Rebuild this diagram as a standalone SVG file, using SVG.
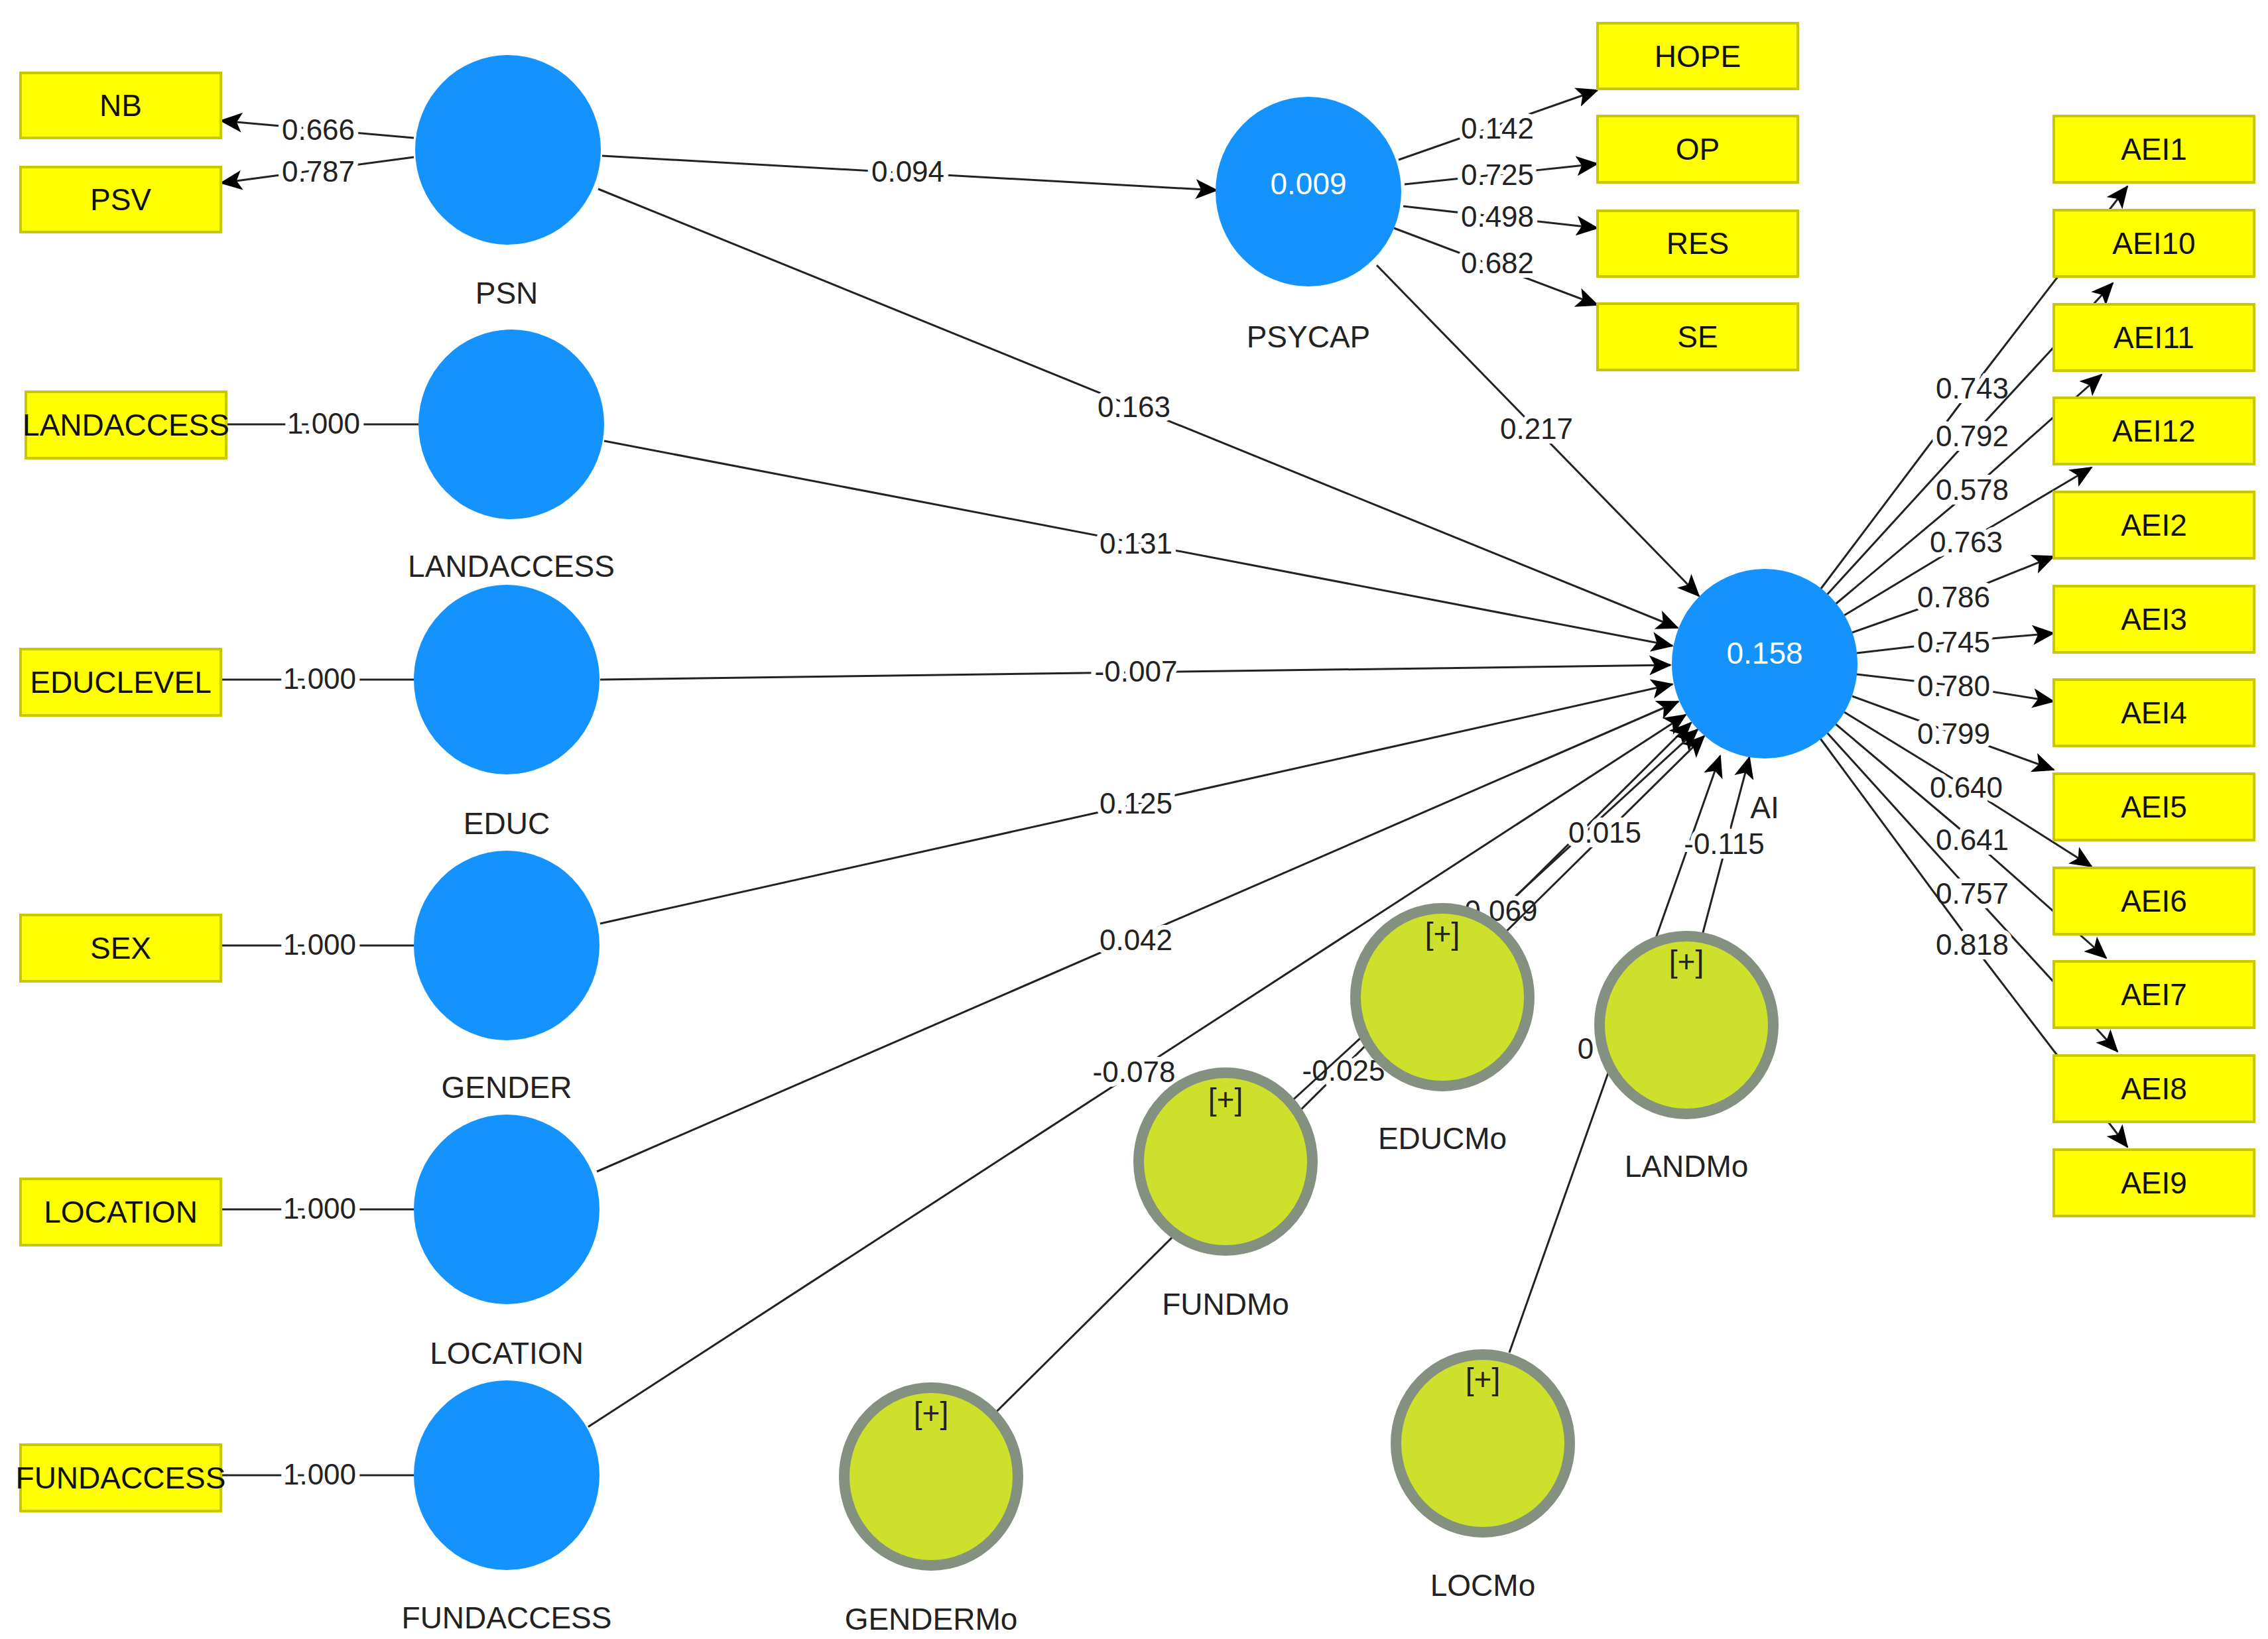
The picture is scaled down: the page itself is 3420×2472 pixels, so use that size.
<svg xmlns="http://www.w3.org/2000/svg" width="3420" height="2472" viewBox="0 0 3420 2472">
<defs>
<marker id="ar" markerUnits="userSpaceOnUse" markerWidth="34" markerHeight="30" refX="32" refY="15" orient="auto"><path d="M0,0 L34,15 L0,30 L8,15 Z" fill="#000"/></marker>
<style>
.ln{stroke:#222;stroke-width:3;fill:none}
.a{marker-end:url(#ar)}
.lbl{font-family:"Liberation Sans",Arial,sans-serif;font-size:44px;fill:#222;text-anchor:middle;dominant-baseline:central;paint-order:stroke;stroke:#fff;stroke-width:14px}
.box{fill:#FFFF00;stroke:#C8C800;stroke-width:4}
.bt{font-family:"Liberation Sans",Arial,sans-serif;font-size:46px;fill:#111;text-anchor:middle;dominant-baseline:central}
.lv{fill:#1493FF}
.mo{fill:#CCE02C;stroke:#849080;stroke-width:16}
.nt{font-family:"Liberation Sans",Arial,sans-serif;font-size:46px;fill:#222;text-anchor:middle;dominant-baseline:central}
.wt{font-family:"Liberation Sans",Arial,sans-serif;font-size:46px;fill:#fff;text-anchor:middle;dominant-baseline:central}
</style>
</defs>
<rect width="3420" height="2472" fill="#fff"/>
<g id="connectors">
<line class="ln a" x1="624" y1="208" x2="333" y2="182"/><text class="lbl" x="480" y="195">0.666</text>
<line class="ln a" x1="624" y1="237" x2="333" y2="276"/><text class="lbl" x="480" y="258">0.787</text>
<line class="ln" x1="342" y1="640" x2="631" y2="640"/><text class="lbl" x="488" y="638">1.000</text>
<line class="ln" x1="333" y1="1025" x2="624" y2="1025"/><text class="lbl" x="482" y="1023">1.000</text>
<line class="ln" x1="333" y1="1426" x2="624" y2="1426"/><text class="lbl" x="482" y="1424">1.000</text>
<line class="ln" x1="333" y1="1824" x2="624" y2="1824"/><text class="lbl" x="482" y="1822">1.000</text>
<line class="ln" x1="333" y1="2225" x2="624" y2="2225"/><text class="lbl" x="482" y="2223">1.000</text>
<line class="ln a" x1="908" y1="235" x2="1835" y2="287"/><text class="lbl" x="1369" y="258">0.094</text>
<line class="ln a" x1="2109" y1="241" x2="2409" y2="136"/><text class="lbl" x="2258" y="193">0.142</text>
<line class="ln a" x1="2118" y1="278" x2="2409" y2="247"/><text class="lbl" x="2258" y="263">0.725</text>
<line class="ln a" x1="2116" y1="311" x2="2409" y2="344"/><text class="lbl" x="2258" y="326">0.498</text>
<line class="ln a" x1="2102" y1="344" x2="2409" y2="460"/><text class="lbl" x="2258" y="396">0.682</text>
<line class="ln a" x1="2076" y1="400" x2="2562" y2="899"/><text class="lbl" x="2317" y="646">0.217</text>
<line class="ln a" x1="902" y1="285" x2="2530" y2="947"/><text class="lbl" x="1710" y="613">0.163</text>
<line class="ln a" x1="911" y1="665" x2="2522" y2="974"/><text class="lbl" x="1713" y="819">0.131</text>
<line class="ln a" x1="905" y1="1025" x2="2519" y2="1003"/><text class="lbl" x="1713" y="1012">-0.007</text>
<line class="ln a" x1="905" y1="1393" x2="2522" y2="1032"/><text class="lbl" x="1713" y="1211">0.125</text>
<line class="ln a" x1="900" y1="1767" x2="2531" y2="1058"/><text class="lbl" x="1713" y="1417">0.042</text>
<line class="ln a" x1="887" y1="2152" x2="2542" y2="1078"/><text class="lbl" x="1710" y="1616">-0.078</text>
<line class="ln a" x1="1404" y1="2227" x2="2550" y2="1090"/><text class="lbl" x="2026" y="1614">-0.025</text>
<line class="ln a" x1="1848" y1="1752" x2="2560" y2="1100"/><text class="lbl" x="2256" y="1373">-0.069</text>
<line class="ln a" x1="2266" y1="1410" x2="2570" y2="1110"/><text class="lbl" x="2420" y="1255">0.015</text>
<line class="ln a" x1="2276" y1="2040" x2="2594" y2="1140"/><text class="lbl" x="2391" y="1581">0</text>
<line class="ln a" x1="2567" y1="1410" x2="2638" y2="1142"/><text class="lbl" x="2600" y="1272">-0.115</text>
<polyline class="ln a" points="2745,889 2974,585 3208,281"/><text class="lbl" x="2974" y="585">0.743</text>
<polyline class="ln a" points="2755,897 2974,657 3186,427"/><text class="lbl" x="2974" y="657">0.792</text>
<polyline class="ln a" points="2768,911 2974,738 3169,565"/><text class="lbl" x="2974" y="738">0.578</text>
<polyline class="ln a" points="2781,928 2965,817 3154,705"/><text class="lbl" x="2965" y="817">0.763</text>
<polyline class="ln a" points="2793,954 2946,900 3097,839"/><text class="lbl" x="2946" y="900">0.786</text>
<polyline class="ln a" points="2800,985 2946,968 3097,955"/><text class="lbl" x="2946" y="968">0.745</text>
<polyline class="ln a" points="2800,1017 2946,1034 3097,1058"/><text class="lbl" x="2946" y="1034">0.780</text>
<polyline class="ln a" points="2793,1050 2946,1106 3097,1161"/><text class="lbl" x="2946" y="1106">0.799</text>
<polyline class="ln a" points="2781,1074 2965,1187 3154,1307"/><text class="lbl" x="2965" y="1187">0.640</text>
<polyline class="ln a" points="2768,1092 2974,1266 3176,1445"/><text class="lbl" x="2974" y="1266">0.641</text>
<polyline class="ln a" points="2755,1105 2974,1347 3193,1586"/><text class="lbl" x="2974" y="1347">0.757</text>
<polyline class="ln a" points="2745,1114 2974,1424 3208,1730"/><text class="lbl" x="2974" y="1424">0.818</text>
</g>
<g id="NB"><rect class="box" x="31" y="110" width="302" height="98"/><text class="bt" x="182" y="159">NB</text></g>
<g id="PSV"><rect class="box" x="31" y="252" width="302" height="98"/><text class="bt" x="182" y="301">PSV</text></g>
<g id="LANDACCESS-i"><rect class="box" x="39" y="591" width="302" height="100"/><text class="bt" x="190" y="641">LANDACCESS</text></g>
<g id="EDUCLEVEL"><rect class="box" x="31" y="979" width="302" height="100"/><text class="bt" x="182" y="1029">EDUCLEVEL</text></g>
<g id="SEX"><rect class="box" x="31" y="1380" width="302" height="100"/><text class="bt" x="182" y="1430">SEX</text></g>
<g id="LOCATION-i"><rect class="box" x="31" y="1778" width="302" height="100"/><text class="bt" x="182" y="1828">LOCATION</text></g>
<g id="FUNDACCESS-i"><rect class="box" x="31" y="2179" width="302" height="100"/><text class="bt" x="182" y="2229">FUNDACCESS</text></g>
<g id="HOPE"><rect class="box" x="2409" y="35" width="302" height="99"/><text class="bt" x="2560" y="85">HOPE</text></g>
<g id="OP"><rect class="box" x="2409" y="175" width="302" height="100"/><text class="bt" x="2560" y="225">OP</text></g>
<g id="RES"><rect class="box" x="2409" y="318" width="302" height="99"/><text class="bt" x="2560" y="367">RES</text></g>
<g id="SE"><rect class="box" x="2409" y="458" width="302" height="100"/><text class="bt" x="2560" y="508">SE</text></g>
<g id="AEI1"><rect class="box" x="3097" y="175" width="302" height="100"/><text class="bt" x="3248" y="225">AEI1</text></g>
<g id="AEI10"><rect class="box" x="3097" y="317" width="302" height="100"/><text class="bt" x="3248" y="367">AEI10</text></g>
<g id="AEI11"><rect class="box" x="3097" y="459" width="302" height="100"/><text class="bt" x="3248" y="509">AEI11</text></g>
<g id="AEI12"><rect class="box" x="3097" y="600" width="302" height="100"/><text class="bt" x="3248" y="650">AEI12</text></g>
<g id="AEI2"><rect class="box" x="3097" y="742" width="302" height="100"/><text class="bt" x="3248" y="792">AEI2</text></g>
<g id="AEI3"><rect class="box" x="3097" y="884" width="302" height="100"/><text class="bt" x="3248" y="934">AEI3</text></g>
<g id="AEI4"><rect class="box" x="3097" y="1025" width="302" height="100"/><text class="bt" x="3248" y="1075">AEI4</text></g>
<g id="AEI5"><rect class="box" x="3097" y="1167" width="302" height="100"/><text class="bt" x="3248" y="1217">AEI5</text></g>
<g id="AEI6"><rect class="box" x="3097" y="1309" width="302" height="100"/><text class="bt" x="3248" y="1359">AEI6</text></g>
<g id="AEI7"><rect class="box" x="3097" y="1450" width="302" height="100"/><text class="bt" x="3248" y="1500">AEI7</text></g>
<g id="AEI8"><rect class="box" x="3097" y="1592" width="302" height="100"/><text class="bt" x="3248" y="1642">AEI8</text></g>
<g id="AEI9"><rect class="box" x="3097" y="1734" width="302" height="100"/><text class="bt" x="3248" y="1784">AEI9</text></g>
<g id="PSN"><ellipse class="lv" cx="766" cy="226" rx="140" ry="143"/><text class="nt" x="764" y="442">PSN</text></g>
<g id="LANDACCESS"><ellipse class="lv" cx="771" cy="640" rx="140" ry="143"/><text class="nt" x="771" y="854">LANDACCESS</text></g>
<g id="EDUC"><ellipse class="lv" cx="764" cy="1025" rx="140" ry="143"/><text class="nt" x="764" y="1242">EDUC</text></g>
<g id="GENDER"><ellipse class="lv" cx="764" cy="1426" rx="140" ry="143"/><text class="nt" x="764" y="1640">GENDER</text></g>
<g id="LOCATION"><ellipse class="lv" cx="764" cy="1824" rx="140" ry="143"/><text class="nt" x="764" y="2041">LOCATION</text></g>
<g id="FUNDACCESS"><ellipse class="lv" cx="764" cy="2225" rx="140" ry="143"/><text class="nt" x="764" y="2440">FUNDACCESS</text></g>
<g id="PSYCAP"><ellipse class="lv" cx="1973" cy="289" rx="140" ry="143"/><text class="wt" x="1973" y="277">0.009</text><text class="nt" x="1973" y="508">PSYCAP</text></g>
<g id="AI"><ellipse class="lv" cx="2661" cy="1001" rx="140" ry="143"/><text class="wt" x="2661" y="985">0.158</text><text class="nt" x="2661" y="1218">AI</text></g>
<g id="EDUCMo"><ellipse class="mo" cx="2175" cy="1504" rx="131" ry="134"/><text class="nt" x="2175" y="1408">[+]</text><text class="nt" x="2175" y="1717">EDUCMo</text></g>
<g id="LANDMo"><ellipse class="mo" cx="2543" cy="1546" rx="131" ry="134"/><text class="nt" x="2543" y="1450">[+]</text><text class="nt" x="2543" y="1759">LANDMo</text></g>
<g id="FUNDMo"><ellipse class="mo" cx="1848" cy="1752" rx="131" ry="134"/><text class="nt" x="1848" y="1658">[+]</text><text class="nt" x="1848" y="1967">FUNDMo</text></g>
<g id="GENDERMo"><ellipse class="mo" cx="1404" cy="2227" rx="131" ry="134"/><text class="nt" x="1404" y="2131">[+]</text><text class="nt" x="1404" y="2442">GENDERMo</text></g>
<g id="LOCMo"><ellipse class="mo" cx="2236" cy="2177" rx="131" ry="134"/><text class="nt" x="2236" y="2080">[+]</text><text class="nt" x="2236" y="2391">LOCMo</text></g>
</svg>
